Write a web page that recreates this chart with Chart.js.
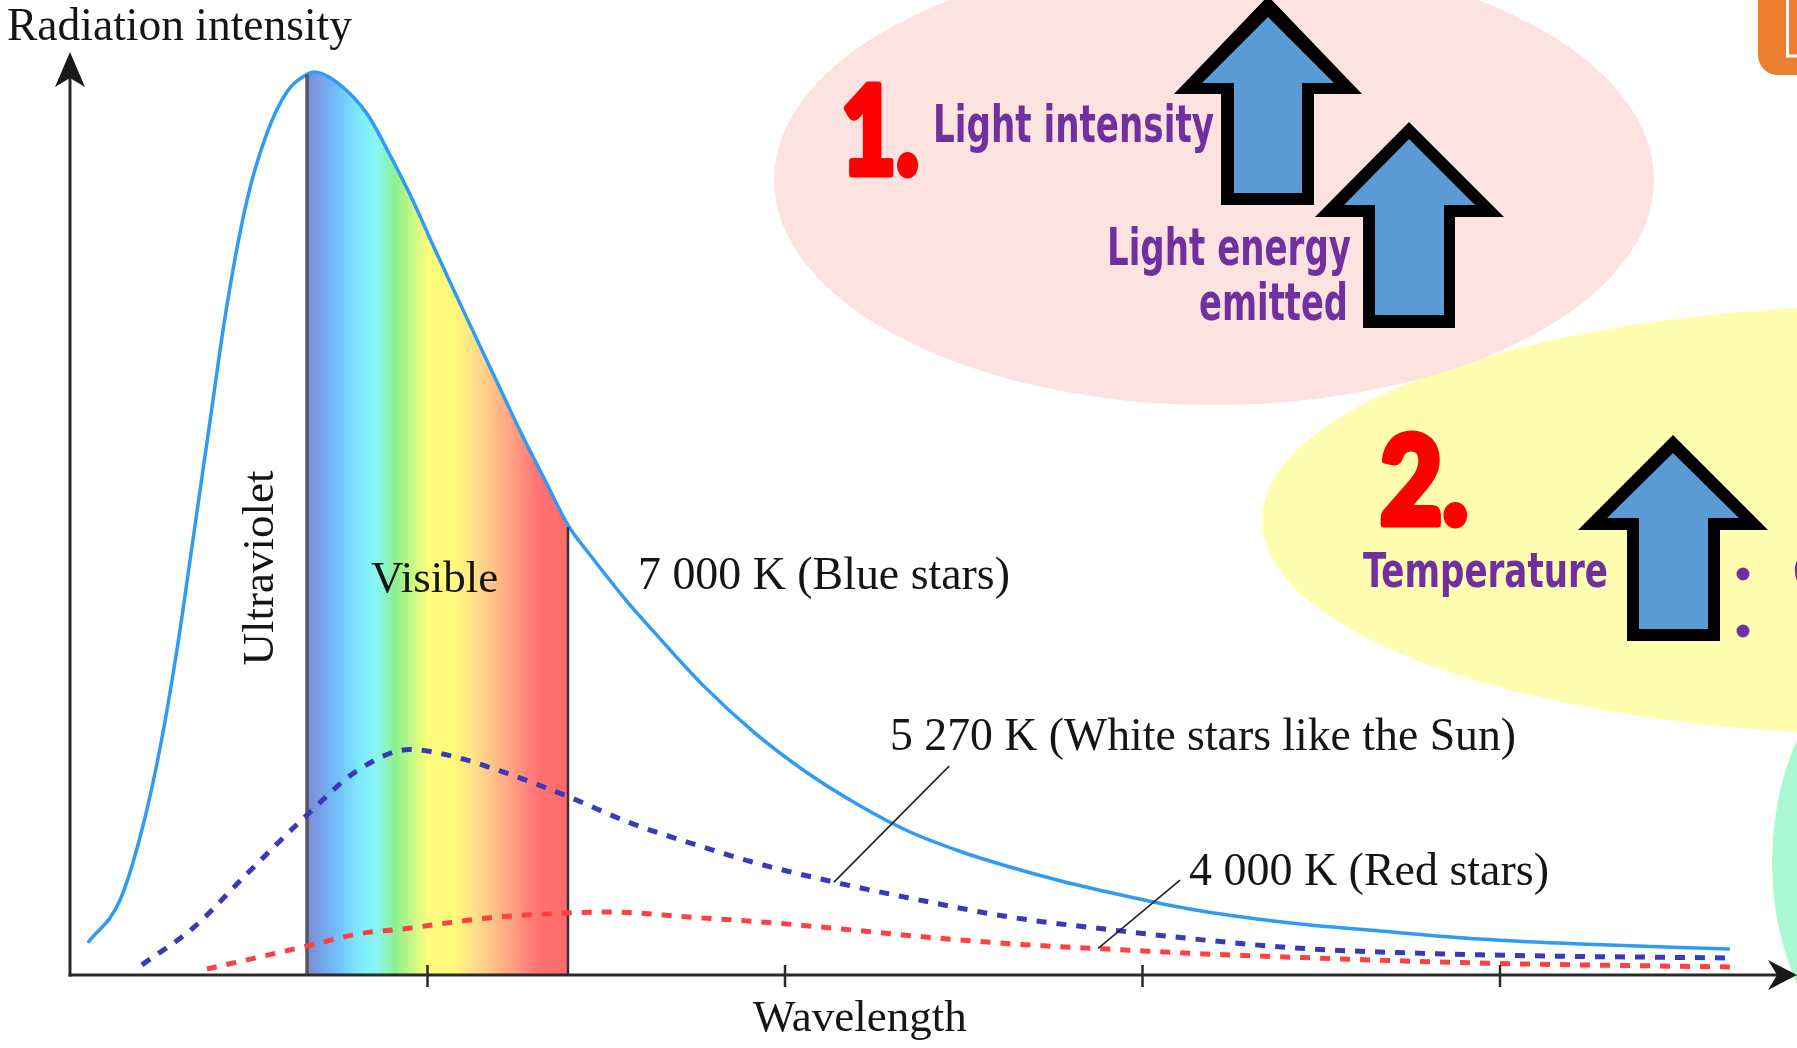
<!DOCTYPE html>
<html><head><meta charset="utf-8">
<script src="https://cdn.jsdelivr.net/npm/chart.js@4.4.0/dist/chart.umd.min.js"></script>
<style>html,body{margin:0;padding:0;background:#fff;overflow:hidden}canvas{display:block}</style>
</head><body>
<canvas id="c" width="1797" height="1048"></canvas>
<script>
// ---- data (arbitrary wavelength / intensity units) ----
const wl7000 = [0.050,0.140,0.204,0.252,0.299,0.344,0.392,0.439,0.495,0.551,0.607,0.663,0.683,0.744,0.831,0.892,0.957,1.018,1.080,1.144,1.206,1.267,1.331,1.393,1.455,1.555,1.631,1.773,1.916,2.059,2.201,2.344,2.487,2.629,2.772,2.915,3.057,3.200,3.441,3.664,3.944,4.224,4.643];
const int7000 = [3.5,8.15,16.2,24.7,35.3,47.3,60.3,72.8,84.2,91.5,96.0,97.9,98.15,97.1,93.6,89.35,84.35,79.1,73.9,68.6,63.5,58.5,53.6,48.9,45.65,40.76,37.4,31.4,26.3,22.07,18.59,15.65,13.48,11.74,10.22,8.91,7.72,6.74,5.54,4.78,3.91,3.37,2.83];
const wl5270 = [0.201,0.344,0.495,0.663,0.803,0.951,1.057,1.217,1.393,1.569,1.731,1.916,2.137,2.344,2.629,2.915,3.200,3.441,3.944,4.643];
const int5270 = [1.1,5.1,11.0,17.4,22.2,24.5,23.9,22.0,19.4,16.5,14.4,12.2,10.1,8.4,6.3,4.9,3.7,2.9,2.2,1.85];
const wl4000 = [0.383,0.663,0.811,0.929,1.169,1.393,1.510,1.731,1.972,2.213,2.344,2.629,2.887,3.200,3.441,3.944,4.643];
const int4000 = [0.65,3.15,4.5,5.0,6.2,6.75,6.85,6.3,5.65,4.8,4.3,3.4,2.85,2.25,1.9,1.3,0.87];
const visibleBand = [0.663, 1.393];
const xTicks = [1, 2, 3, 4];
const seriesNames = ['7 000 K (Blue stars)', '5 270 K (White stars like the Sun)', '4 000 K (Red stars)'];
const axisTitles = ['Radiation intensity', 'Wavelength'];
const regionLabels = ['Ultraviolet', 'Visible'];
// leader lines: [x on curve, y on curve, x at label, y at label]
const leader5270 = [2.137, 10.1, 2.459, 22.7];
const leader4000 = [2.876, 2.9, 3.105, 10.3];
const infoTexts = ['Light intensity', 'Light energy', 'emitted', 'Temperature'];
const infoNumbers = ['1.', '2.'];

const toXY = (xs, ys) => xs.map((x, i) => ({x, y: ys[i]}));

const rainbow = [
  [0.00,'#7F88D6'],[0.10,'#6FB8F8'],[0.21,'#80EEFF'],[0.27,'#88F6EE'],[0.34,'#8CF08C'],
  [0.40,'#C4F884'],[0.46,'#FAFC7C'],[0.56,'#FFFA78'],[0.64,'#FFE28A'],[0.72,'#FFBE88'],
  [0.80,'#FF9A80'],[0.88,'#FF7474'],[1.00,'#FF6868']
];

function bandFill(context) {
  const chart = context.chart;
  const ca = chart.chartArea;
  if (!ca) return 'rgba(0,0,0,0)';
  const xs = chart.scales.x;
  const L = ca.left, R = ca.right, W = R - L;
  const t0 = (xs.getPixelForValue(visibleBand[0]) - L) / W;
  const t1 = (xs.getPixelForValue(visibleBand[1]) - L) / W;
  const g = chart.ctx.createLinearGradient(L, 0, R, 0);
  g.addColorStop(0, 'rgba(255,255,255,0)');
  g.addColorStop(t0, 'rgba(255,255,255,0)');
  rainbow.forEach(([p, c]) => g.addColorStop(t0 + p * (t1 - t0), c));
  g.addColorStop(Math.min(1, t1 + 0.0001), 'rgba(255,255,255,0)');
  g.addColorStop(1, 'rgba(255,255,255,0)');
  return g;
}

function poly(ctx, pts, color) {
  ctx.beginPath();
  ctx.moveTo(pts[0][0], pts[0][1]);
  for (let i = 1; i < pts.length; i++) ctx.lineTo(pts[i][0], pts[i][1]);
  ctx.closePath();
  ctx.fillStyle = color;
  ctx.fill();
}
function blockArrow(ctx, o, n) {
  poly(ctx, o, '#000');
  poly(ctx, n, '#5B9BD5');
}
function heavyText(ctx, t, x, y, w) {
  ctx.fillText(t, x, y, w);
  ctx.strokeText(t, x, y, w);
}

const backgroundPlugin = {
  id: 'infographic',
  beforeDraw(chart) {
    const ctx = chart.ctx;
    ctx.save();
    ctx.fillStyle = '#fff';
    ctx.fillRect(0, 0, chart.width, chart.height);
    // yellow
    ctx.beginPath(); ctx.ellipse(1902, 520, 640, 215, 0, 0, Math.PI * 2);
    ctx.fillStyle = '#FFFDB0'; ctx.fill();
    // pink
    ctx.beginPath(); ctx.ellipse(1214, 180, 440, 225, 0, 0, Math.PI * 2);
    ctx.fillStyle = '#FDE3E0'; ctx.fill();
    // green
    ctx.beginPath(); ctx.ellipse(1952, 862, 180, 240, 0, 0, Math.PI * 2);
    ctx.fillStyle = '#AAF8D2'; ctx.fill();
    // orange box
    ctx.beginPath(); ctx.roundRect(1758, -40, 90, 115, 20);
    ctx.fillStyle = '#ED7D31'; ctx.fill();
    ctx.strokeStyle = '#fff'; ctx.lineWidth = 3;
    ctx.strokeRect(1787.5, -10, 60, 66);

    // arrows
    blockArrow(ctx,
      [[1268,-4],[1362,94],[1314,94],[1314,205],[1221,205],[1221,94],[1174,94]],
      [[1268,17],[1334,83],[1302,83],[1302,193],[1234,193],[1234,83],[1202,83]]);
    blockArrow(ctx,
      [[1409,122],[1504,217],[1455,217],[1455,328],[1363,328],[1363,217],[1315,217]],
      [[1409,139],[1475,205],[1444,205],[1444,315],[1375,315],[1375,205],[1344,205]]);
    blockArrow(ctx,
      [[1673,435],[1768,530],[1720,530],[1720,641],[1627,641],[1627,530],[1578,530]],
      [[1673,453],[1739,518],[1708,518],[1708,629],[1639,629],[1639,518],[1607,518]]);

    // texts
    ctx.textBaseline = 'alphabetic'; ctx.textAlign = 'left';
    ctx.fillStyle = '#FF0000'; ctx.strokeStyle = '#FF0000';
    ctx.lineWidth = 7; ctx.lineJoin = 'round';
    ctx.font = '900 122px Lato, "Liberation Sans", sans-serif';
    heavyText(ctx, infoNumbers[0], 841, 174, 78);
    heavyText(ctx, infoNumbers[1], 1380, 524, 88);
    ctx.fillStyle = '#7030A0';
    ctx.font = 'bold 51px "Liberation Sans Narrow", "DejaVu Sans Condensed", "Open Sans", sans-serif';
    ctx.fillText(infoTexts[0], 933, 142, 281);
    ctx.fillText(infoTexts[1], 1107, 265, 244);
    ctx.fillText(infoTexts[2], 1199, 320, 149);
    ctx.font = 'bold 48px "Liberation Sans Narrow", "DejaVu Sans Condensed", "Open Sans", sans-serif';
    ctx.fillText(infoTexts[3], 1363, 587, 245);
    // bullets
    ctx.beginPath(); ctx.arc(1743, 574, 6.5, 0, Math.PI * 2); ctx.fill();
    ctx.beginPath(); ctx.arc(1743, 631, 6.5, 0, Math.PI * 2); ctx.fill();
    ctx.font = 'bold 48px "Liberation Sans Narrow", "Open Sans", sans-serif';
    ctx.fillText('C', 1792, 588);
    ctx.fillText('I', 1794, 645);
    ctx.restore();
  },
  afterDatasetDraw(chart, args) {
    if (args.index !== 0) return;
    const ctx = chart.ctx, xs = chart.scales.x, ys = chart.scales.y;
    ctx.save();
    const base = ys.getPixelForValue(0);
    visibleBand.forEach((b, i) => {
      const idx = wl7000.indexOf(b);
      const top = ys.getPixelForValue(int7000[idx]);
      const px = xs.getPixelForValue(b);
      ctx.beginPath(); ctx.moveTo(px, base); ctx.lineTo(px, top + (i === 0 ? 0 : 2));
      ctx.strokeStyle = i === 0 ? '#555' : '#333';
      ctx.lineWidth = i === 0 ? 3.5 : 2.5;
      ctx.stroke();
    });
    ctx.restore();
  },
  afterDatasetsDraw(chart) {
    const ctx = chart.ctx, xs = chart.scales.x, ys = chart.scales.y, ca = chart.chartArea;
    ctx.save();
    ctx.strokeStyle = '#2a2a2a'; ctx.fillStyle = '#1a1a1a'; ctx.lineWidth = 3;
    // y axis
    ctx.beginPath(); ctx.moveTo(ca.left, ca.bottom + 1.5); ctx.lineTo(ca.left, 75); ctx.stroke();
    poly(ctx, [[ca.left, 52], [ca.left + 15, 87], [ca.left, 78], [ca.left - 15, 87]], '#1a1a1a');
    // x axis
    ctx.beginPath(); ctx.moveTo(ca.left - 1.5, ca.bottom); ctx.lineTo(1780, ca.bottom); ctx.stroke();
    poly(ctx, [[1797, ca.bottom], [1768, ca.bottom + 15], [1777, ca.bottom], [1768, ca.bottom - 15]], '#1a1a1a');
    // ticks
    ctx.lineWidth = 2.5;
    xTicks.forEach(t => {
      const px = xs.getPixelForValue(t);
      ctx.beginPath(); ctx.moveTo(px, ca.bottom - 10); ctx.lineTo(px, ca.bottom + 12); ctx.stroke();
    });
    // leader lines
    ctx.lineWidth = 1.6; ctx.strokeStyle = '#222';
    [leader5270, leader4000].forEach(l => {
      ctx.beginPath();
      ctx.moveTo(xs.getPixelForValue(l[0]), ys.getPixelForValue(l[1]));
      ctx.lineTo(xs.getPixelForValue(l[2]), ys.getPixelForValue(l[3]));
      ctx.stroke();
    });
    ctx.restore();
  },
  afterDraw(chart) {
    const ctx = chart.ctx;
    ctx.save();
    ctx.fillStyle = '#151515';
    ctx.textBaseline = 'alphabetic'; ctx.textAlign = 'left';
    ctx.font = '45.5px "Liberation Serif", "Times New Roman", serif';
    ctx.fillText(axisTitles[0], 7, 40, 346);
    ctx.font = '45px "Liberation Serif", "Times New Roman", serif';
    ctx.fillText(axisTitles[1], 753, 1031, 216);
    ctx.fillText(regionLabels[1], 371, 592, 128);
    ctx.font = '46px "Liberation Serif", "Times New Roman", serif';
    ctx.fillText(seriesNames[0], 638, 589, 372);
    ctx.fillText(seriesNames[1], 890, 750, 626);
    ctx.fillText(seriesNames[2], 1189, 885, 360);
    ctx.font = '45px "Liberation Serif", "Times New Roman", serif';
    ctx.save();
    ctx.translate(273, 568); ctx.rotate(-Math.PI / 2);
    ctx.textAlign = 'center';
    ctx.fillText(regionLabels[0], 0, 0, 198);
    ctx.restore();
    ctx.restore();
  }
};

new Chart(document.getElementById('c'), {
  type: 'line',
  data: {
    datasets: [
      {
        label: seriesNames[0], data: toXY(wl7000, int7000),
        borderColor: '#2F9BF5', borderWidth: 3.5, fill: 'origin', backgroundColor: bandFill,
        cubicInterpolationMode: 'monotone', pointRadius: 0, order: 3
      },
      {
        label: seriesNames[1], data: toXY(wl5270, int5270),
        borderColor: '#3A3AB8', borderWidth: 5, borderDash: [10, 10], fill: false,
        cubicInterpolationMode: 'monotone', pointRadius: 0, order: 1
      },
      {
        label: seriesNames[2], data: toXY(wl4000, int4000),
        borderColor: '#FF4040', borderWidth: 5, borderDash: [10, 10], fill: false,
        cubicInterpolationMode: 'monotone', pointRadius: 0, order: 2
      }
    ]
  },
  options: {
    responsive: false, animation: false, events: [],
    devicePixelRatio: 1,
    layout: { padding: { left: 70, right: 11, top: 55, bottom: 73 } },
    plugins: { legend: { display: false }, tooltip: { enabled: false }, title: { display: false } },
    scales: {
      x: { type: 'linear', min: 0, max: 4.8, display: false },
      y: { type: 'linear', min: 0, max: 100, display: false }
    }
  },
  plugins: [backgroundPlugin]
});
</script>
</body></html>
